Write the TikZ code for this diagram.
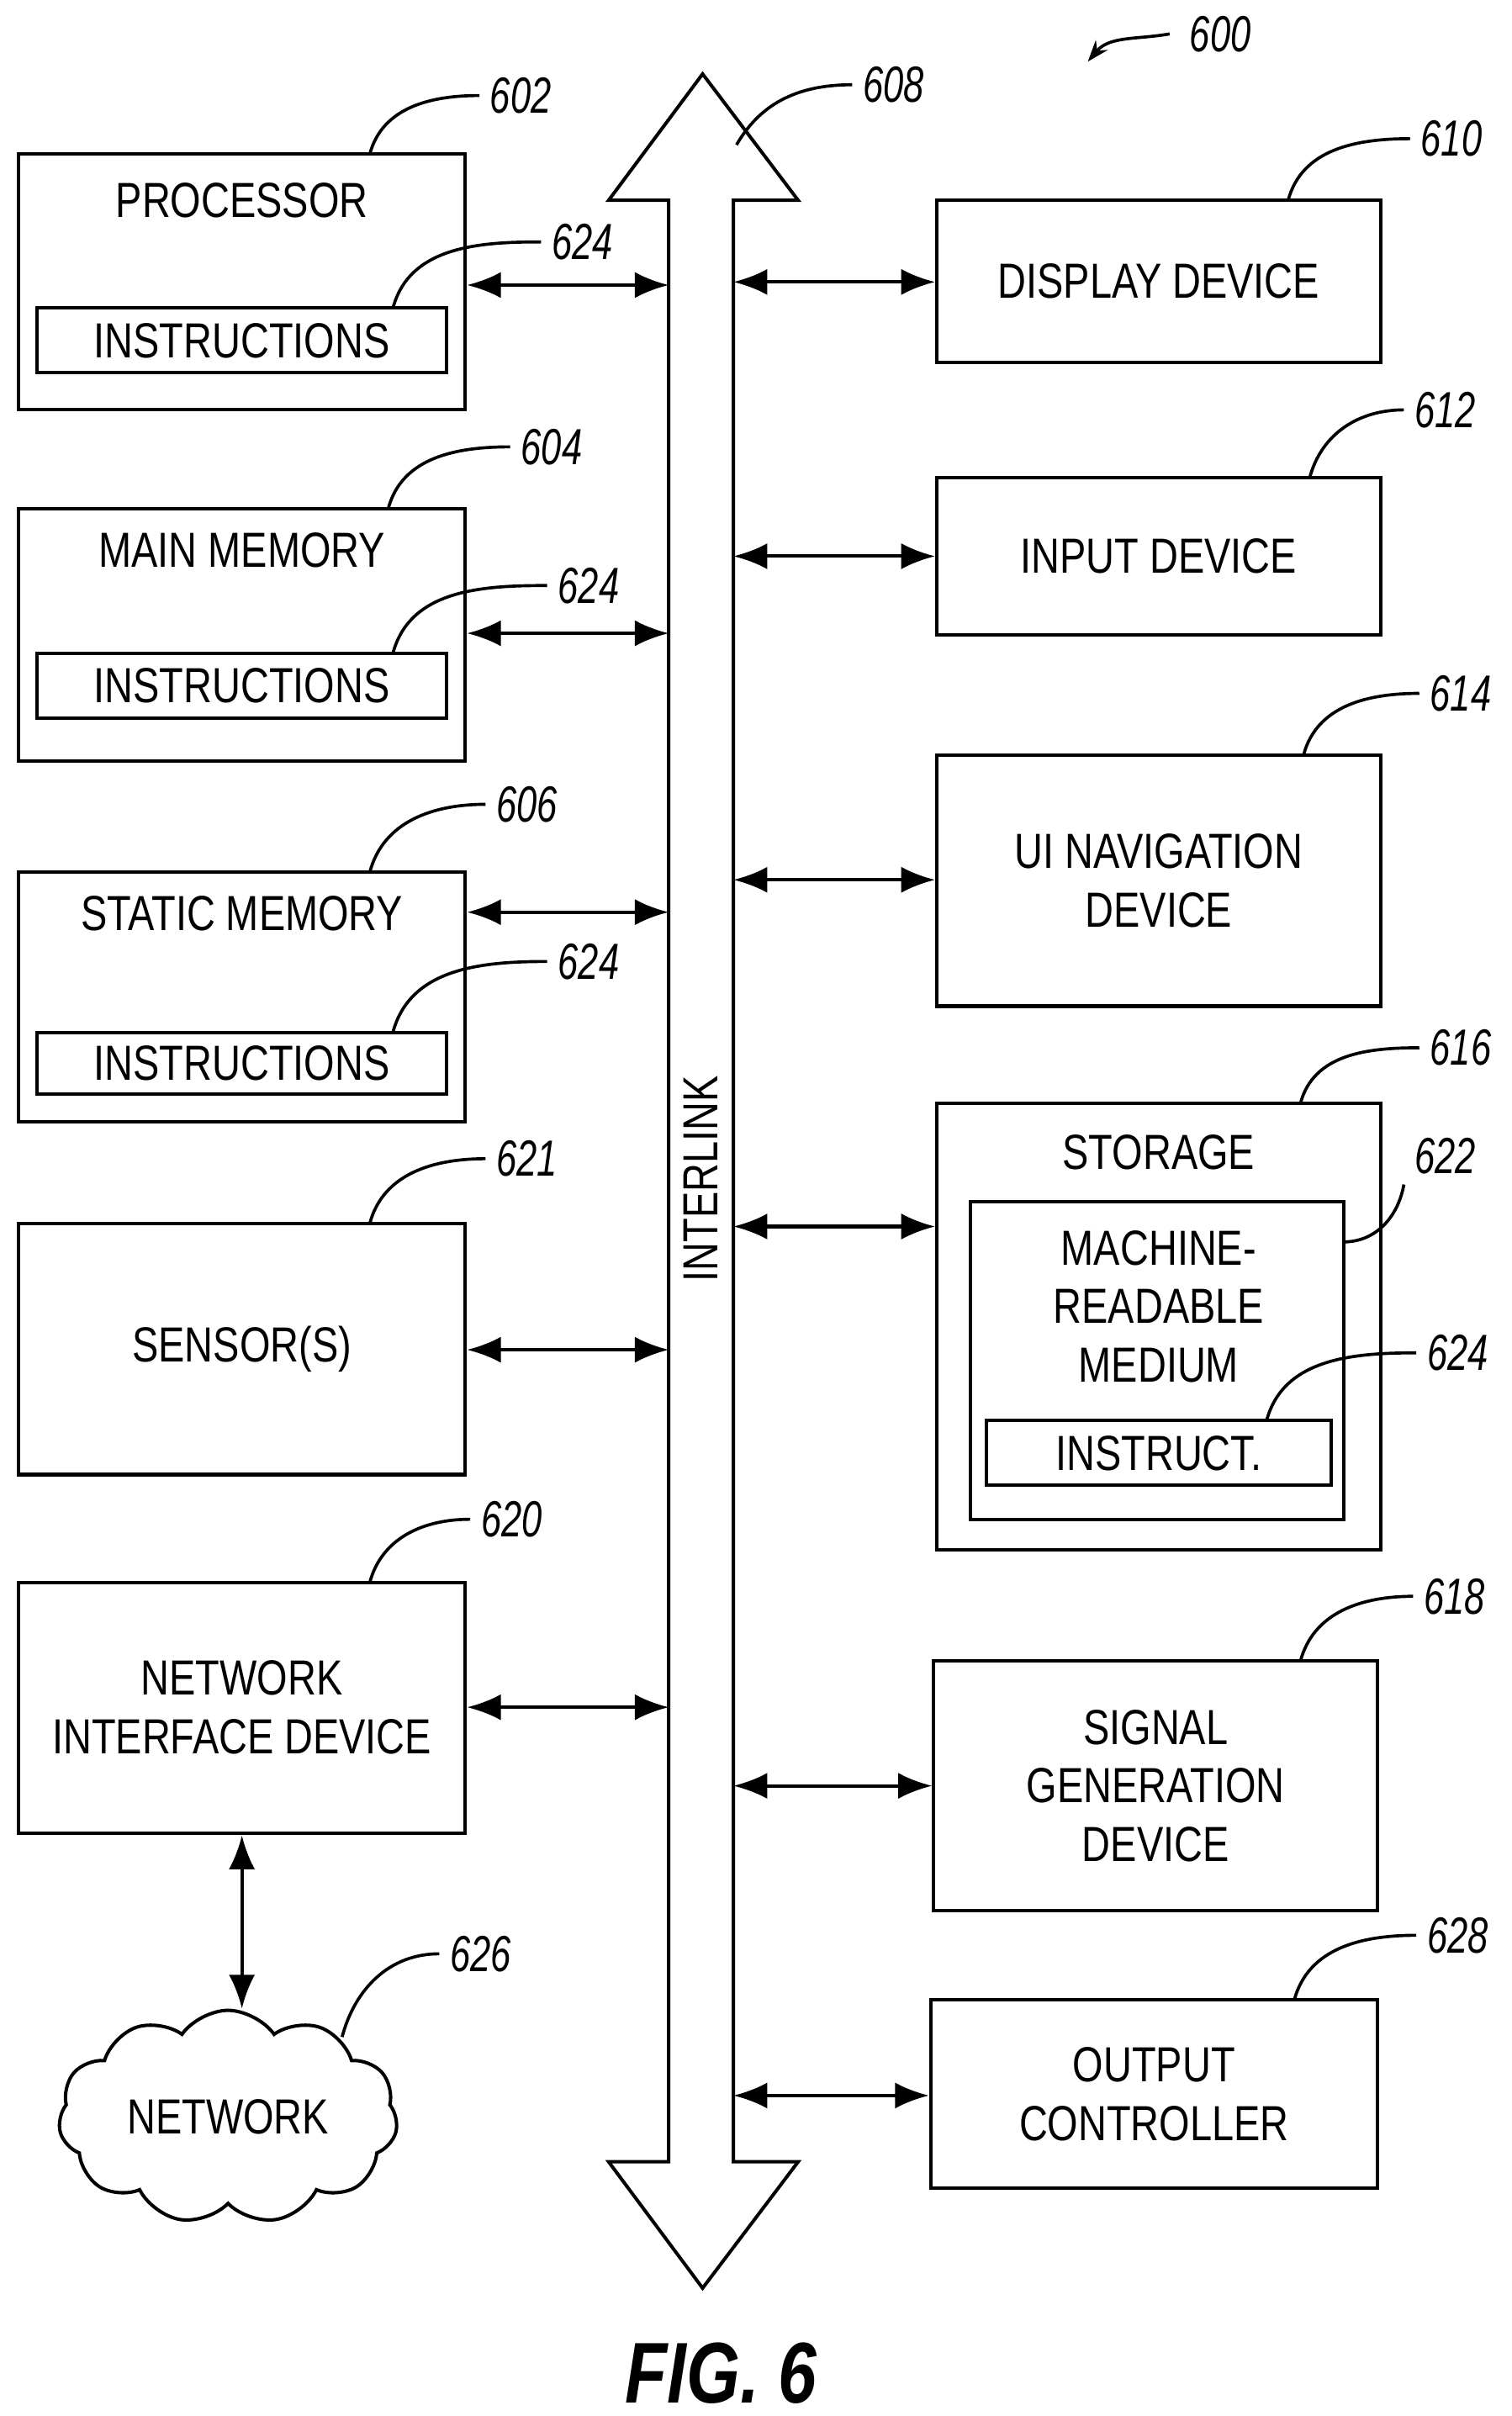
\documentclass[tikz,border=0pt]{standalone}
\usepackage{fontspec}
\setmainfont{Liberation Sans}[FakeStretch=0.8]
\usetikzlibrary{arrows.meta,fit,shapes.symbols}
\begin{document}
\begin{tikzpicture}[x=0.5pt,y=-0.5pt,
  box/.style={draw,line width=1.1pt,inner sep=0pt,fit={#1}},
  txt/.style={font=\fontsize{16}{19}\selectfont,align=center},
  lab/.style={font=\itshape\addfontfeature{FakeStretch=0.72}\fontsize{16.5}{18}\selectfont},
  lead/.style={line width=1pt},
  dar/.style={line width=1.1pt,{Latex[length=11pt,width=8.5pt]}-{Latex[length=11pt,width=8.5pt]}}]
\useasboundingbox (0,0) rectangle (981,1568);
% left boxes
\node[box={(12,100)(302,266)}] (proc) {};
\node[txt] (proct) at (157,130) {PROCESSOR};
\node[box={(24,200)(290,242)}] (pi) {};
\node[txt] at (pi) {INSTRUCTIONS};
\node[box={(12,330)(302,494)}] (mm) {};
\node[txt] at (157,357) {MAIN MEMORY};
\node[box={(24,424)(290,466)}] (mi) {};
\node[txt] at (mi) {INSTRUCTIONS};
\node[box={(12,566)(302,728)}] (sm) {};
\node[txt] at (157,593) {STATIC MEMORY};
\node[box={(24,670)(290,710)}] (si) {};
\node[txt] at (si) {INSTRUCTIONS};
\node[box={(12,794)(302,957)}] (sen) {};
\node[txt] at (sen) {SENSOR(S)};
\node[box={(12,1027)(302,1190)}] (nid) {};
\node[txt] at (157,1108) {NETWORK\\INTERFACE DEVICE};
\node[cloud,draw,line width=1.1pt,cloud puffs=11,cloud puff arc=110,aspect=1.8,minimum width=110pt,minimum height=60pt,txt] (net) at (148,1374) {NETWORK};
% right boxes
\node[box={(608,130)(896,235)}] (disp) {};
\node[txt] at (disp) {DISPLAY DEVICE};
\node[box={(608,310)(896,412)}] (inp) {};
\node[txt] at (inp) {INPUT DEVICE};
\node[box={(608,490)(896,653)}] (ui) {};
\node[txt] at (ui) {UI NAVIGATION\\DEVICE};
\node[box={(608,716)(896,1006)}] (sto) {};
\node[txt] at (752,748) {STORAGE};
\node[box={(630,780)(872,986)}] (mrm) {};
\node[txt] at (752,848) {MACHINE-\\READABLE\\MEDIUM};
\node[box={(640,922)(864,964)}] (ins) {};
\node[txt] at (ins) {INSTRUCT.};
\node[box={(606,1078)(894,1240)}] (sig) {};
\node[txt] at (sig) {SIGNAL\\GENERATION\\DEVICE};
\node[box={(604,1298)(894,1420)}] (out) {};
\node[txt] at (749,1359) {OUTPUT\\CONTROLLER};
% interlink
\draw[line width=1.1pt] (434,130) -- (395,130) -- (456,48) -- (518,130) -- (476,130)
  -- (476,1403) -- (518,1403) -- (456,1485) -- (395,1403) -- (434,1403) -- cycle;
\node[txt,rotate=90] (bus) at (455,765) {INTERLINK};
\foreach \n/\y in {a/185,b/411,c/592,d/876,e/1108}{\coordinate (L\n) at (434,\y);}
\foreach \n/\y in {a/183,b/361,c/571,d/796,e/1159,f/1360}{\coordinate (R\n) at (476,\y);}
\draw[dar] (proc.east |- La) -- (La);
\draw[dar] (mm.east |- Lb) -- (Lb);
\draw[dar] (sm.east |- Lc) -- (Lc);
\draw[dar] (sen.east |- Ld) -- (Ld);
\draw[dar] (nid.east |- Le) -- (Le);
\draw[dar] (Ra) -- (disp.west |- Ra);
\draw[dar] (Rb) -- (inp.west |- Rb);
\draw[dar] (Rc) -- (ui.west |- Rc);
\draw[dar] (Rd) -- (sto.west |- Rd);
\draw[dar] (Re) -- (sig.west |- Re);
\draw[dar] (Rf) -- (out.west |- Rf);
\draw[dar] (nid.south -| 157,0) -- (net.north -| 157,0);
% labels
\node[lab] (l602) at (338,62) {602};
\draw[lead] (240,100) to[out=75,in=180] (l602.west);
\node[lab] (l624a) at (378,157) {624};
\draw[lead] (255,200) to[out=75,in=180] (l624a.west);
\node[lab] (l604) at (358,290) {604};
\draw[lead] (252,330) to[out=75,in=180] (l604.west);
\node[lab] (l624b) at (382,380) {624};
\draw[lead] (255,424) to[out=75,in=180] (l624b.west);
\node[lab] (l606) at (342,522) {606};
\draw[lead] (240,566) to[out=75,in=180] (l606.west);
\node[lab] (l624c) at (382,624) {624};
\draw[lead] (255,670) to[out=75,in=180] (l624c.west);
\node[lab] (l621) at (342,752) {621};
\draw[lead] (240,794) to[out=75,in=180] (l621.west);
\node[lab] (l620) at (332,986) {620};
\draw[lead] (240,1027) to[out=75,in=180] (l620.west);
\node[lab] (l626) at (312,1268) {626};
\draw[lead] (222,1322) to[out=75,in=180] (l626.west);
\node[lab] (l608) at (580,55) {608};
\draw[lead] (478,94) to[out=60,in=180] (l608.west);
\node[lab] (l610) at (942,90) {610};
\draw[lead] (836,130) to[out=75,in=180] (l610.west);
\node[lab] (l612) at (938,266) {612};
\draw[lead] (850,310) to[out=75,in=180] (l612.west);
\node[lab] (l614) at (948,450) {614};
\draw[lead] (846,490) to[out=75,in=180] (l614.west);
\node[lab] (l616) at (948,680) {616};
\draw[lead] (844,716) to[out=75,in=180] (l616.west);
\node[lab] (l622) at (938,750) {622};
\draw[lead] (872,806) to[out=0,in=-100] (l622.south west);
\node[lab] (l624d) at (946,878) {624};
\draw[lead] (822,922) to[out=75,in=180] (l624d.west);
\node[lab] (l618) at (944,1036) {618};
\draw[lead] (844,1078) to[out=75,in=180] (l618.west);
\node[lab] (l628) at (946,1256) {628};
\draw[lead] (840,1298) to[out=75,in=180] (l628.west);
\node[lab] (l600) at (792,22) {600};
\coordinate (a600) at (706,40);
\draw[lead,-{Stealth[length=7pt,width=5pt]}] (l600.west) ++(-6,0) to[out=190,in=50] (a600);
\node[font=\bfseries\itshape\addfontfeature{FakeStretch=0.8}\fontsize{28}{30}\selectfont] (fig) at (468,1540) {FIG. 6};
\end{tikzpicture}
\end{document}
